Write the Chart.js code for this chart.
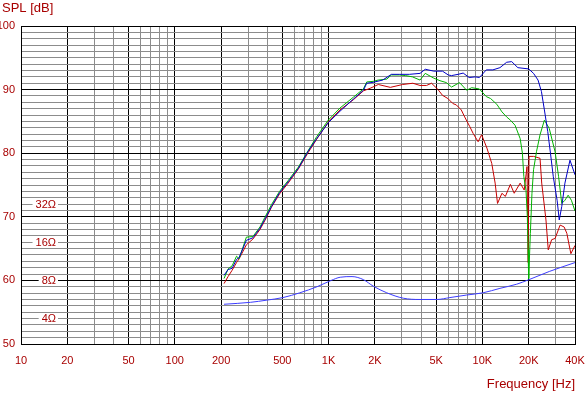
<!DOCTYPE html>
<html>
<head>
<meta charset="utf-8">
<script src="https://cdn.jsdelivr.net/npm/chart.js@4.4.1/dist/chart.umd.min.js"></script>
<style>
  html, body { margin: 0; padding: 0; background: #fff; }
  canvas { display: block; }
</style>
</head>
<body>
<canvas id="spl" width="585" height="395"></canvas>
<script>
// common rising part (Hz)
const riseF = [209, 222, 236, 252, 262, 292, 322, 358, 385, 425, 480, 546, 635, 736, 837, 995, 1186, 1448, 1684];
const blueRise = [60.8, 61.7, 61.9, 63.3, 63.6, 66.3, 66.7, 68.2, 69.6, 71.6, 73.8, 75.5, 77.6, 80.3, 82.3, 84.8, 86.6, 88.5, 89.9];
const greenRise = [60.3, 61.8, 62.3, 63.8, 63.4, 66.8, 66.9, 68.4, 69.9, 71.9, 74.0, 75.7, 77.8, 80.4, 82.6, 85.2, 87.1, 88.8, 90.1];
const redRise = [59.5, 60.6, 61.6, 62.8, 63.4, 65.6, 66.5, 68.0, 69.4, 71.5, 73.6, 75.3, 77.5, 80.1, 82.2, 84.9, 86.8, 88.4, 89.8];

const blueF = [1770, 1950, 2250, 2560, 2880, 3350, 3930, 4250, 4830, 5500, 6000, 6300, 6950, 7500, 8200, 9000, 9560, 10600, 11700, 13000, 14380, 15500, 17000, 20000, 21500, 23000, 24200, 25300, 26600, 27700, 28900, 30600, 31600, 32800, 34400, 37100, 40000];
const blueV = [91.0, 91.15, 91.5, 92.4, 92.4, 92.4, 92.55, 93.2, 92.9, 92.9, 92.3, 92.2, 92.4, 92.6, 91.9, 92.0, 91.9, 93.1, 93.1, 93.45, 94.3, 94.4, 93.45, 93.25, 92.55, 91.5, 89.7, 86.8, 83.4, 80.0, 76.3, 72.6, 69.5, 71.6, 75.3, 78.9, 76.6];

const greenF = [1770, 1950, 2100, 2390, 2560, 2880, 3170, 3510, 3930, 4250, 4830, 5300, 5830, 6300, 7100, 7900, 8520, 9560, 10600, 11300, 12400, 13400, 14380, 15200, 16300, 17600, 18200, 18600, 19200, 19600, 19800, 20000, 20500, 21000, 21500, 22500, 23700, 25300, 27200, 29700, 31300, 32800, 34400, 36100, 37900, 40000];
const greenV = [91.2, 91.3, 91.5, 91.65, 92.3, 92.3, 92.2, 92.0, 91.5, 92.55, 91.8, 91.4, 91.1, 90.4, 91.1, 89.9, 90.3, 90.1, 88.9, 88.6, 87.7, 86.5, 85.7, 85.2, 84.4, 82.3, 80.0, 76.3, 74.2, 70.0, 64.8, 60.3, 67.4, 73.7, 77.4, 80.3, 82.9, 85.2, 83.9, 80.2, 76.3, 72.1, 72.6, 73.4, 72.6, 70.9];

const redF = [1860, 2104, 2520, 3030, 3530, 3930, 4330, 4670, 5150, 5500, 5960, 6430, 6760, 7290, 7670, 8270, 8710, 9380, 9880, 10700, 11500, 12100, 12540, 13400, 14100, 15200, 16100, 17600, 18700, 19500, 19850, 20100, 21500, 23700, 24300, 25900, 26800, 28200, 29700, 32000, 34000, 35400, 37600, 40000];
const redV = [90.2, 90.8, 90.35, 90.8, 91.0, 90.65, 90.65, 91.0, 90.0, 89.1, 88.6, 87.8, 87.6, 86.8, 85.7, 84.2, 83.1, 81.8, 82.9, 80.8, 78.4, 75.3, 72.1, 73.7, 73.2, 75.1, 73.7, 75.3, 74.2, 77.9, 62.8, 79.5, 79.5, 79.2, 75.3, 69.5, 64.8, 66.4, 66.6, 68.7, 68.4, 67.4, 64.2, 65.5];

// impedance curve, on the dB scale (8 ohm = 60)
const impF = [209, 310, 397, 505, 650, 840, 1040, 1190, 1420, 1690, 1950, 2390, 3060, 3930, 5050, 6150, 7900, 10100, 13000, 16700, 20000, 27200, 40000];
const impV = [56.25, 56.55, 56.9, 57.3, 58.05, 59.0, 60.0, 60.5, 60.6, 60.1, 59.1, 58.05, 57.2, 57.0, 57.0, 57.3, 57.7, 58.05, 58.75, 59.4, 60.1, 61.4, 62.8];

// axes
const xGrid = [10,20,30,40,50,60,70,80,90,100,200,300,400,500,600,700,800,900,1000,2000,3000,4000,5000,6000,7000,8000,9000,10000,20000,30000,40000];
const xTickValues = [10, 20, 50, 100, 200, 500, 1000, 2000, 5000, 10000, 20000, 40000];
const xTickLabels = ['10', '20', '50', '100', '200', '500', '1K', '2K', '5K', '10K', '20K', '40K'];
const ohmLabels = ['32Ω', '16Ω', '8Ω', '4Ω'];
const ohmLevels = [72, 66, 60, 54];

const labelRed = '#a80000';
const font = 'Liberation Sans';

function pts(f, v) {
  return f.map((x, i) => ({ x: x, y: v[i] }));
}

function isMajorX(v) {
  const m = Math.round(v / Math.pow(10, Math.floor(Math.log10(v) + 1e-9)));
  return m === 1 || m === 2 || m === 5 || v === 40000;
}

const textPlugin = {
  id: 'texts',
  beforeDatasetsDraw(chart) {
    const c = chart.ctx;
    const y = chart.scales.y;
    c.save();
    c.font = '11px "' + font + '"';
    c.textAlign = 'right';
    c.textBaseline = 'middle';
    ohmLabels.forEach((t, i) => {
      const py = y.getPixelForValue(ohmLevels[i]);
      const w = c.measureText(t).width;
      c.fillStyle = '#fff';
      c.fillRect(56 - w - 3, py - 5, w + 5, 10);
      c.fillStyle = labelRed;
      c.fillText(t, 56, py + 0.5);
    });
    c.restore();
  },
  afterDraw(chart) {
    const c = chart.ctx;
    c.save();
    c.fillStyle = labelRed;
    c.font = '13px "' + font + '"';
    c.textBaseline = 'middle';
    c.textAlign = 'left';
    c.fillText('SPL [dB]', 2, 8);
    c.textAlign = 'right';
    c.fillText('Frequency [Hz]', 575, 384);
    c.restore();
  }
};

const line = (data, color, extra) => Object.assign({
  data: data,
  borderColor: color,
  borderWidth: 1,
  pointRadius: 0,
  fill: false,
  tension: 0
}, extra || {});

new Chart(document.getElementById('spl'), {
  type: 'line',
  data: {
    datasets: [
      line(pts(riseF, blueRise).concat(pts(blueF, blueV)), '#0000c8'),
      line(pts(riseF, greenRise).concat(pts(greenF, greenV)), '#00b400'),
      line(pts(riseF, redRise).concat(pts(redF, redV)), '#c80000'),
      line(pts(impF, impV), '#3c3cff', { cubicInterpolationMode: 'monotone' })
    ]
  },
  options: {
    responsive: false,
    animation: false,
    events: [],
    layout: { padding: { top: 26, right: 10, left: 0, bottom: 0 } },
    plugins: { legend: { display: false }, tooltip: { enabled: false } },
    scales: {
      x: {
        type: 'logarithmic',
        min: 10,
        max: 40000,
        afterBuildTicks: s => { s.ticks = xGrid.map(v => ({ value: v })); },
        afterFit: s => { s.height = 51; s.paddingLeft = 0; s.paddingRight = 0; },
        border: { color: '#000' },
        grid: {
          drawTicks: false,
          color: ctx => isMajorX(ctx.tick.value) ? '#000' : '#8c8c8c'
        },
        ticks: {
          autoSkip: false,
          maxRotation: 0,
          padding: 10,
          color: labelRed,
          font: { family: font, size: 11 },
          callback: v => {
            const i = xTickValues.indexOf(v);
            return i >= 0 ? xTickLabels[i] : '';
          }
        }
      },
      y: {
        min: 50,
        max: 100,
        afterFit: s => { s.width = 21; s.paddingTop = 0; s.paddingBottom = 0; },
        border: { color: '#000' },
        grid: {
          drawTicks: false,
          color: ctx => ctx.tick.value % 10 === 0 ? '#000' : '#8c8c8c'
        },
        ticks: {
          stepSize: 1,
          autoSkip: false,
          padding: 6,
          color: labelRed,
          font: { family: font, size: 11 },
          callback: v => v % 10 === 0 ? String(v) : ''
        }
      }
    }
  },
  plugins: [textPlugin]
});
</script>
</body>
</html>
